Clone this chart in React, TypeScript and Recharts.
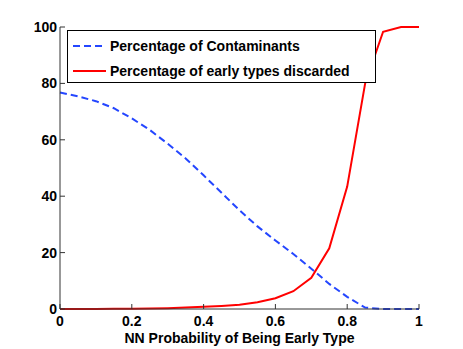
import { LineChart, Line, XAxis, YAxis } from 'recharts';

const probability = [0, 0.05, 0.1, 0.15, 0.2, 0.25, 0.3, 0.35, 0.4, 0.45, 0.5, 0.55, 0.6, 0.65, 0.7, 0.75, 0.8, 0.85, 0.9, 0.95, 1];
const contaminants = [76.8, 75.4, 73.7, 71.2, 67.6, 63.5, 58.6, 53.4, 47.4, 41.2, 35, 29.3, 24.3, 19.5, 14.3, 8.9, 4.3, 0.5, 0, 0, 0];
const discarded = [0, 0, 0, 0.1, 0.1, 0.2, 0.3, 0.5, 0.8, 1.1, 1.5, 2.4, 3.8, 6.3, 11.1, 21.5, 43.4, 80, 98.3, 100, 100];

const xTicks = [0, 0.2, 0.4, 0.6, 0.8, 1];
const yTicks = [0, 20, 40, 60, 80, 100];

const LEGEND = [
  { label: 'Percentage of Contaminants', color: '#2446ff', dash: '7 4' },
  { label: 'Percentage of early types discarded', color: '#ff0000', dash: undefined },
];

const FONT = '"Liberation Sans", Arial, Helvetica, sans-serif';
const AXIS = '#333';
const tickStyle = { fontSize: 14, fontWeight: 700, fill: '#000', fontFamily: FONT };

const data = probability.map((p, i) => ({ p, contaminants: contaminants[i], discarded: discarded[i] }));

export default function App() {
  return (
    <div style={{ position: 'absolute', left: 0, top: 0, width: 463, height: 349, background: 'white', fontFamily: FONT }}>
      <LineChart width={463} height={349} data={data} margin={{ top: 27, right: 44, bottom: 0, left: 0 }}>
        <XAxis
          xAxisId="bottom"
          dataKey="p"
          type="number"
          domain={[0, 1]}
          ticks={xTicks}
          tickFormatter={(v: number) => String(v)}
          height={40}
          tickSize={-5}
          tickMargin={12}
          stroke={AXIS}
          tick={tickStyle}
          label={{ value: 'NN Probability of Being Early Type', position: 'insideBottom', offset: 6, style: { ...tickStyle, textAnchor: 'middle' } }}
        />
        <XAxis
          xAxisId="top"
          orientation="top"
          dataKey="p"
          type="number"
          domain={[0, 1]}
          ticks={xTicks}
          height={0}
          tickSize={-5}
          stroke={AXIS}
          tick={false}
        />
        <YAxis
          yAxisId="left"
          domain={[0, 100]}
          ticks={yTicks}
          width={60}
          tickSize={-5}
          tickMargin={8}
          stroke={AXIS}
          tick={tickStyle}
        />
        <YAxis
          yAxisId="right"
          orientation="right"
          domain={[0, 100]}
          ticks={yTicks}
          width={0}
          tickSize={-5}
          stroke={AXIS}
          tick={false}
        />
        <Line
          xAxisId="bottom"
          yAxisId="left"
          type="linear"
          dataKey="contaminants"
          stroke="#2446ff"
          strokeWidth={2}
          strokeDasharray="7 4"
          dot={false}
          isAnimationActive={false}
        />
        <Line
          xAxisId="bottom"
          yAxisId="left"
          type="linear"
          dataKey="discarded"
          stroke="#ff0000"
          strokeWidth={2}
          dot={false}
          isAnimationActive={false}
        />
      </LineChart>
      <div
        style={{
          position: 'absolute',
          left: 67,
          top: 30,
          width: 307,
          height: 51,
          border: '1px solid #000',
          background: 'white',
          boxSizing: 'content-box',
        }}
      >
        {LEGEND.map((item, i) => (
          <div key={item.label} style={{ position: 'absolute', left: 5, top: 6 + i * 25, height: 18, display: 'flex', alignItems: 'center' }}>
            <svg width={34} height={4} style={{ display: 'block' }}>
              <line x1={0} y1={2} x2={33} y2={2} stroke={item.color} strokeWidth={2} strokeDasharray={item.dash} />
            </svg>
            <span style={{ marginLeft: 3, fontSize: 14, fontWeight: 700, color: '#000', whiteSpace: 'nowrap' }}>{item.label}</span>
          </div>
        ))}
      </div>
    </div>
  );
}
